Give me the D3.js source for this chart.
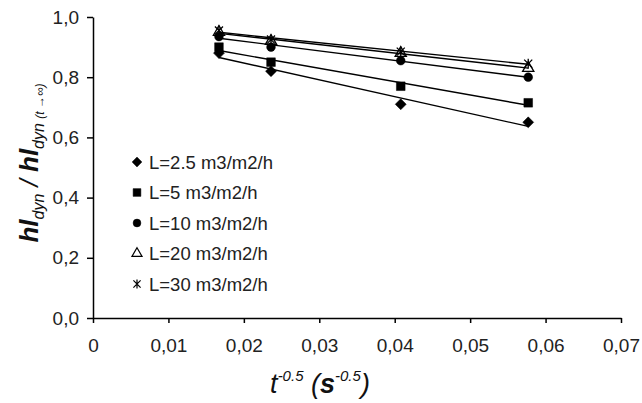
<!DOCTYPE html>
<html>
<head>
<meta charset="utf-8">
<script src="https://cdn.jsdelivr.net/npm/d3@7"></script>
<style>
  body { margin: 0; background: #fff; }
  svg { display: block; font-family: "Liberation Sans", Arial, sans-serif; }
</style>
</head>
<body>
<svg id="chart"></svg>
<script>
const width = 642;
const height = 403;

// t^-0.5 values (s^-0.5)
const xValues = [0.0167, 0.0236, 0.0408, 0.0577];
const seriesNames = ["L=2.5 m3/m2/h", "L=5 m3/m2/h", "L=10 m3/m2/h", "L=20 m3/m2/h", "L=30 m3/m2/h"];
const seriesL25 = [0.88, 0.82, 0.71, 0.65];
const seriesL5 = [0.90, 0.85, 0.77, 0.715];
const seriesL10 = [0.935, 0.90, 0.855, 0.80];
const seriesL20 = [0.95, 0.92, 0.88, 0.83];
const seriesL30 = [0.955, 0.925, 0.885, 0.845];
const xTicks = [0, 0.01, 0.02, 0.03, 0.04, 0.05, 0.06, 0.07];
const xTickLabels = ["0", "0,01", "0,02", "0,03", "0,04", "0,05", "0,06", "0,07"];
const yTicks = [0, 0.2, 0.4, 0.6, 0.8, 1.0];
const yTickLabels = ["0,0", "0,2", "0,4", "0,6", "0,8", "1,0"];

const margin = { top: 17, left: 93, bottom: 85, right: 21 };

// excel-like markers
const symbolStar = {
  draw(context, size) {
    const r = Math.sqrt(size) * 0.6;
    context.moveTo(0, -r); context.lineTo(0, r);
    context.moveTo(-r * 0.8, -r * 0.8); context.lineTo(r * 0.8, r * 0.8);
    context.moveTo(-r * 0.8, r * 0.8); context.lineTo(r * 0.8, -r * 0.8);
  }
};
const symbolRhomb = {
  draw(context, size) {
    const r = Math.sqrt(size / 2);
    context.moveTo(0, -r); context.lineTo(r, 0);
    context.lineTo(0, r); context.lineTo(-r, 0);
    context.closePath();
  }
};

const series = [
  { name: seriesNames[0], values: seriesL25, symbol: symbolRhomb, size: 60, fill: true },
  { name: seriesNames[1], values: seriesL5, symbol: d3.symbolSquare, size: 75, fill: true },
  { name: seriesNames[2], values: seriesL10, symbol: d3.symbolCircle, size: 60, fill: true },
  { name: seriesNames[3], values: seriesL20, symbol: d3.symbolTriangle, size: 55, fill: false },
  { name: seriesNames[4], values: seriesL30, symbol: symbolStar, size: 70, fill: false }
];

const svg = d3.select("#chart")
  .attr("width", width)
  .attr("height", height);

const xScale = d3.scaleLinear()
  .domain([0, 0.07])
  .range([margin.left, width - margin.right]);

const yScale = d3.scaleLinear()
  .domain([0, 1])
  .range([height - margin.bottom, margin.top]);

//axes
const xAxis = d3.axisBottom(xScale)
  .tickValues(xTicks)
  .tickFormat((d, i) => xTickLabels[i])
  .tickSize(5)
  .tickSizeOuter(0)
  .tickPadding(16);

const yAxis = d3.axisLeft(yScale)
  .tickValues(yTicks)
  .tickFormat((d, i) => yTickLabels[i])
  .tickSize(6)
  .tickSizeOuter(0)
  .tickPadding(8);

const gx = svg.append("g")
  .attr("transform", `translate(0,${yScale(0)})`)
  .call(xAxis);

const gy = svg.append("g")
  .attr("transform", `translate(${xScale(0)},0)`)
  .call(yAxis);

[gx, gy].forEach(g => {
  g.selectAll("path, line").attr("stroke", "#000").attr("stroke-width", 1.5);
  g.selectAll("text")
    .attr("fill", "#222")
    .style("font-size", "19px");
});

//trend lines (least squares)
function fit(values) {
  const mx = d3.mean(xValues);
  const my = d3.mean(values);
  const sxy = d3.sum(xValues, (x, i) => (x - mx) * (values[i] - my));
  const sxx = d3.sum(xValues, x => (x - mx) * (x - mx));
  const b = sxy / sxx;
  return x => my + b * (x - mx);
}

const line = d3.line()
  .x(d => xScale(d[0]))
  .y(d => yScale(d[1]));

series.forEach(s => {
  const f = fit(s.values);
  const ends = d3.extent(xValues);
  svg.append("path")
    .attr("d", line(ends.map(x => [x, f(x)])))
    .attr("fill", "none")
    .attr("stroke", "#000")
    .attr("stroke-width", 1.4);
});

//markers
series.forEach(s => {
  svg.append("g")
    .selectAll("path")
    .data(s.values)
    .join("path")
      .attr("transform", (d, i) => `translate(${xScale(xValues[i])},${yScale(d)})`)
      .attr("d", d3.symbol().type(s.symbol).size(s.size))
      .attr("fill", s.fill ? "#000" : "none")
      .attr("stroke", "#000")
      .attr("stroke-width", s.fill ? 0.5 : 1.3);
});

//legend
const legend = svg.append("g");
series.forEach((s, i) => {
  const y = 162 + i * 30.5;
  legend.append("path")
    .attr("transform", `translate(137,${y})`)
    .attr("d", d3.symbol().type(s.symbol).size(s.size * 0.8))
    .attr("fill", s.fill ? "#000" : "none")
    .attr("stroke", "#000")
    .attr("stroke-width", s.fill ? 0.5 : 1.2);
  legend.append("text")
    .attr("x", 149)
    .attr("y", y + 6.5)
    .attr("fill", "#222")
    .style("font-size", "18.5px")
    .text(s.name);
});

//x axis title
const xt = svg.append("text")
  .attr("x", 320)
  .attr("y", 393)
  .attr("text-anchor", "middle")
  .attr("fill", "#111")
  .style("font-style", "italic")
  .style("font-size", "27px");
xt.append("tspan").text("t");
xt.append("tspan").attr("dy", -12).style("font-size", "15px").text("-0.5");
xt.append("tspan").attr("dy", 12).text(" (");
xt.append("tspan").style("font-weight", "bold").text("s");
xt.append("tspan").attr("dy", -12).style("font-size", "15px").text("-0.5");
xt.append("tspan").attr("dy", 12).text(")");

//y axis title
const yt = svg.append("text")
  .attr("transform", "translate(38,163) rotate(-90)")
  .attr("text-anchor", "middle")
  .attr("fill", "#111")
  .style("font-style", "italic")
  .style("font-size", "26px");
yt.append("tspan").style("font-weight", "bold").text("hl");
yt.append("tspan").attr("dy", 6).style("font-size", "16px").text("dyn");
yt.append("tspan").attr("dy", -6).text(" / ");
yt.append("tspan").style("font-weight", "bold").text("hl");
yt.append("tspan").attr("dy", 6).style("font-size", "16px").text("dyn ");
yt.append("tspan").style("font-size", "12px").text("(t \u2192\u221e)");
</script>
</body>
</html>
